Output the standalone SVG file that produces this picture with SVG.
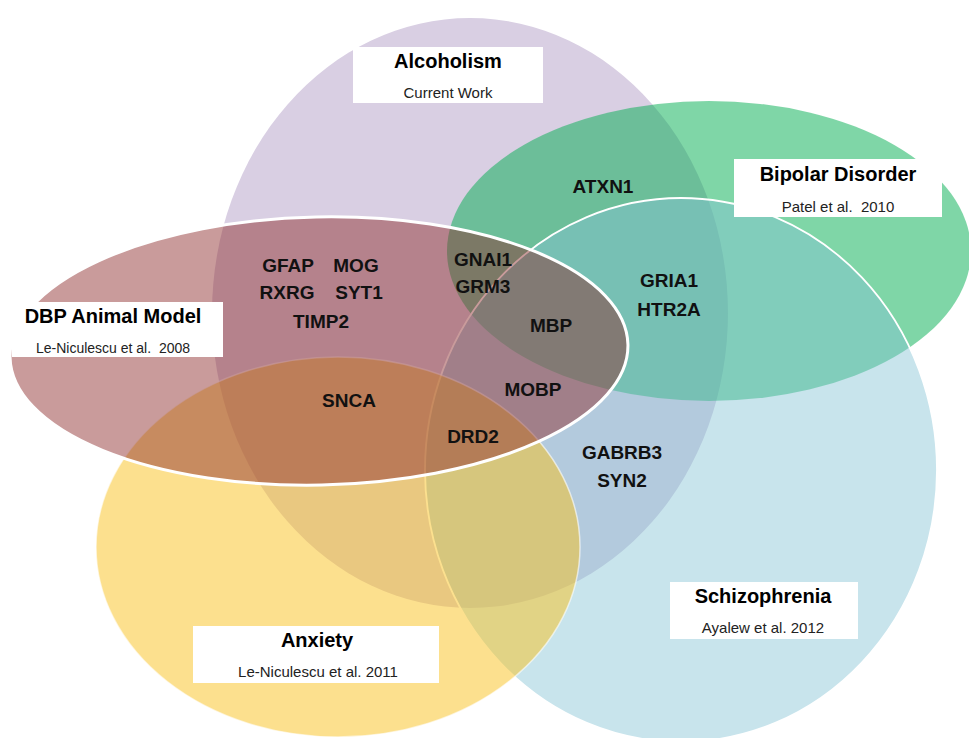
<svg xmlns="http://www.w3.org/2000/svg" width="969" height="738" viewBox="0 0 969 738">
<style>
.t{font-family:"Liberation Sans",Arial,sans-serif;font-weight:bold;font-size:20px;fill:#000;text-anchor:middle}
.s{font-family:"Liberation Sans",Arial,sans-serif;font-size:15px;fill:#222;text-anchor:middle;white-space:pre}
.g{font-family:"Liberation Sans",Arial,sans-serif;font-weight:bold;font-size:19px;fill:#111;text-anchor:middle}
.box{fill:#fff}
</style>
<rect width="969" height="738" fill="#fff"/>
<g id="sets">
<ellipse id="alcoholism-set" cx="470" cy="313" rx="258" ry="295" fill="#d9cfe3"/>
<ellipse id="bipolar-set" cx="709" cy="251" rx="262" ry="150" fill="#00ad4f" fill-opacity="0.5"/>
<ellipse id="schizophrenia-set" cx="681" cy="470" rx="256" ry="272" fill="#85c3d5" fill-opacity="0.45" stroke="#fff" stroke-width="1.8"/>
<ellipse id="anxiety-set" cx="338" cy="547" rx="242" ry="190" fill="#f9c11d" fill-opacity="0.5" stroke="#fff" stroke-opacity="0.6" stroke-width="1.5"/>
<ellipse id="dbp-set" cx="319" cy="351" rx="309" ry="134" transform="rotate(-1.2 319 351)" fill="#8e2d2d" fill-opacity="0.48" stroke="#fff" stroke-width="3"/>
</g>
<g id="connectors"></g>
<g id="alcoholism-label">
<rect class="box" x="353" y="47" width="190" height="56"/>
<text class="t" x="448" y="68">Alcoholism</text>
<text class="s" x="448" y="98">Current Work</text>
</g>
<g id="bipolar-label">
<rect class="box" x="734" y="159" width="208" height="58"/>
<text class="t" x="838" y="181">Bipolar Disorder</text>
<text class="s" x="838" y="212" xml:space="preserve">Patel et al.  2010</text>
</g>
<g id="dbp-label">
<rect class="box" x="12" y="302" width="211" height="55"/>
<text class="t" x="113" y="323">DBP Animal Model</text>
<text class="s" x="113" y="353" style="font-size:14px" xml:space="preserve">Le-Niculescu et al.  2008</text>
</g>
<g id="schizophrenia-label">
<rect class="box" x="670" y="582" width="188" height="57"/>
<text class="t" x="763" y="603">Schizophrenia</text>
<text class="s" x="763" y="633">Ayalew et al. 2012</text>
</g>
<g id="anxiety-label">
<rect class="box" x="193" y="626" width="246" height="57"/>
<text class="t" x="317" y="647">Anxiety</text>
<text class="s" x="318" y="677">Le-Niculescu et al. 2011</text>
</g>
<g id="genes">
<text class="g" x="603" y="193">ATXN1</text>
<text class="g" x="288" y="272">GFAP</text>
<text class="g" x="356" y="272">MOG</text>
<text class="g" x="287" y="299">RXRG</text>
<text class="g" x="359" y="299">SYT1</text>
<text class="g" x="321" y="328">TIMP2</text>
<text class="g" x="483" y="266">GNAI1</text>
<text class="g" x="483" y="293">GRM3</text>
<text class="g" x="669" y="287">GRIA1</text>
<text class="g" x="669" y="316">HTR2A</text>
<text class="g" x="551" y="332">MBP</text>
<text class="g" x="349" y="407">SNCA</text>
<text class="g" x="533" y="396">MOBP</text>
<text class="g" x="473" y="443">DRD2</text>
<text class="g" x="622" y="459">GABRB3</text>
<text class="g" x="622" y="487">SYN2</text>
</g>
</svg>
